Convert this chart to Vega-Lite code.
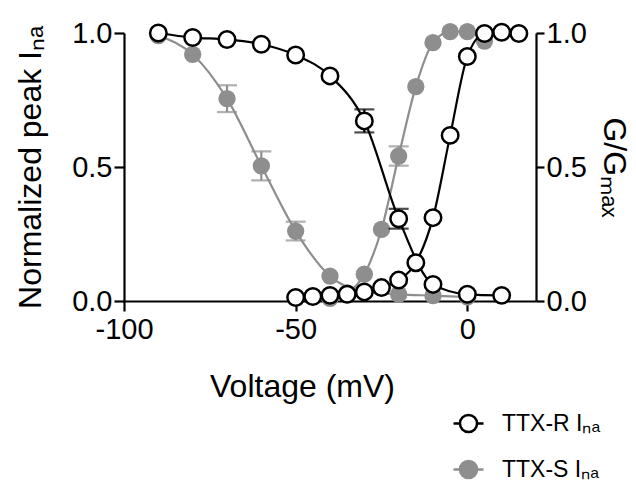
{
  "$schema": "https://vega.github.io/schema/vega-lite/v6.json",
  "width": 412,
  "height": 268,
  "autosize": {"type": "none"},
  "padding": {"left": 124, "top": 33, "right": 100, "bottom": 183},
  "config": {
    "view": {"stroke": null},
    "font": "Liberation Sans",
    "axis": {
      "grid": false,
      "labelFlush": false,
      "domainColor": "black",
      "tickColor": "black",
      "labelColor": "black",
      "titleColor": "black",
      "domainWidth": 2.2,
      "tickWidth": 2.2,
      "labelFontSize": 29,
      "titleFontSize": 32,
      "titleFontWeight": "normal",
      "tickSize": 9,
      "labelPadding": 3
    },
    "legend": {
      "symbolType": "M-1,0H-0.57M0.57,0H1M0.57,0A0.57,0.57 0 1,1 -0.57,0A0.57,0.57 0 1,1 0.57,0Z",
      "symbolSize": 900,
      "symbolStrokeWidth": 2.5,
      "labelFontSize": 23,
      "labelColor": "black",
      "labelOffset": 17,
      "rowPadding": 15
    }
  },
  "data": {
    "values": [
      {"v": -90, "y": 1.0, "grp": "R", "series": "TTX-R Iₙₐ", "curve": "R-inact"},
      {"v": -80, "y": 0.983, "grp": "R", "series": "TTX-R Iₙₐ", "curve": "R-inact"},
      {"v": -70, "y": 0.976, "grp": "R", "series": "TTX-R Iₙₐ", "curve": "R-inact"},
      {"v": -60, "y": 0.958, "grp": "R", "series": "TTX-R Iₙₐ", "curve": "R-inact"},
      {"v": -50, "y": 0.918, "grp": "R", "series": "TTX-R Iₙₐ", "curve": "R-inact"},
      {"v": -40, "y": 0.84, "grp": "R", "series": "TTX-R Iₙₐ", "curve": "R-inact"},
      {"v": -30, "y": 0.672, "lo": 0.629, "hi": 0.715, "grp": "R", "series": "TTX-R Iₙₐ", "curve": "R-inact"},
      {"v": -20, "y": 0.307, "lo": 0.27, "hi": 0.344, "grp": "R", "series": "TTX-R Iₙₐ", "curve": "R-inact"},
      {"v": -10, "y": 0.062, "grp": "R", "series": "TTX-R Iₙₐ", "curve": "R-inact"},
      {"v": 0, "y": 0.025, "grp": "R", "series": "TTX-R Iₙₐ", "curve": "R-inact"},
      {"v": 10, "y": 0.021, "grp": "R", "series": "TTX-R Iₙₐ", "curve": "R-inact"},
      {"v": -50, "y": 0.013, "grp": "R", "series": "TTX-R Iₙₐ", "curve": "R-act"},
      {"v": -45, "y": 0.017, "grp": "R", "series": "TTX-R Iₙₐ", "curve": "R-act"},
      {"v": -40, "y": 0.021, "grp": "R", "series": "TTX-R Iₙₐ", "curve": "R-act"},
      {"v": -35, "y": 0.025, "grp": "R", "series": "TTX-R Iₙₐ", "curve": "R-act"},
      {"v": -30, "y": 0.034, "grp": "R", "series": "TTX-R Iₙₐ", "curve": "R-act"},
      {"v": -25, "y": 0.05, "grp": "R", "series": "TTX-R Iₙₐ", "curve": "R-act"},
      {"v": -20, "y": 0.078, "grp": "R", "series": "TTX-R Iₙₐ", "curve": "R-act"},
      {"v": -15, "y": 0.143, "grp": "R", "series": "TTX-R Iₙₐ", "curve": "R-act"},
      {"v": -10, "y": 0.311, "grp": "R", "series": "TTX-R Iₙₐ", "curve": "R-act"},
      {"v": -5, "y": 0.618, "grp": "R", "series": "TTX-R Iₙₐ", "curve": "R-act"},
      {"v": 0, "y": 0.912, "grp": "R", "series": "TTX-R Iₙₐ", "curve": "R-act"},
      {"v": 5, "y": 0.998, "grp": "R", "series": "TTX-R Iₙₐ", "curve": "R-act"},
      {"v": 10, "y": 1.003, "grp": "R", "series": "TTX-R Iₙₐ", "curve": "R-act"},
      {"v": 15, "y": 0.998, "grp": "R", "series": "TTX-R Iₙₐ", "curve": "R-act"},
      {"v": -90, "y": 0.99, "grp": "S", "series": "TTX-S Iₙₐ", "curve": "S-inact"},
      {"v": -80, "y": 0.92, "grp": "S", "series": "TTX-S Iₙₐ", "curve": "S-inact"},
      {"v": -70, "y": 0.755, "lo": 0.705, "hi": 0.805, "grp": "S", "series": "TTX-S Iₙₐ", "curve": "S-inact"},
      {"v": -60, "y": 0.504, "lo": 0.45, "hi": 0.558, "grp": "S", "series": "TTX-S Iₙₐ", "curve": "S-inact"},
      {"v": -50, "y": 0.261, "lo": 0.226, "hi": 0.296, "grp": "S", "series": "TTX-S Iₙₐ", "curve": "S-inact"},
      {"v": -40, "y": 0.093, "grp": "S", "series": "TTX-S Iₙₐ", "curve": "S-inact"},
      {"v": -30, "y": 0.035, "grp": "S", "series": "TTX-S Iₙₐ", "curve": "S-inact"},
      {"v": -20, "y": 0.025, "grp": "S", "series": "TTX-S Iₙₐ", "curve": "S-inact"},
      {"v": -10, "y": 0.02, "grp": "S", "series": "TTX-S Iₙₐ", "curve": "S-inact"},
      {"v": 0, "y": 0.015, "grp": "S", "series": "TTX-S Iₙₐ", "curve": "S-inact"},
      {"v": -40, "y": 0.01, "grp": "S", "series": "TTX-S Iₙₐ", "curve": "S-act"},
      {"v": -35, "y": 0.03, "grp": "S", "series": "TTX-S Iₙₐ", "curve": "S-act"},
      {"v": -30, "y": 0.1, "grp": "S", "series": "TTX-S Iₙₐ", "curve": "S-act"},
      {"v": -25, "y": 0.267, "grp": "S", "series": "TTX-S Iₙₐ", "curve": "S-act"},
      {"v": -20, "y": 0.541, "lo": 0.505, "hi": 0.577, "grp": "S", "series": "TTX-S Iₙₐ", "curve": "S-act"},
      {"v": -15, "y": 0.8, "grp": "S", "series": "TTX-S Iₙₐ", "curve": "S-act"},
      {"v": -10, "y": 0.964, "grp": "S", "series": "TTX-S Iₙₐ", "curve": "S-act"},
      {"v": -5, "y": 1.005, "grp": "S", "series": "TTX-S Iₙₐ", "curve": "S-act"},
      {"v": 0, "y": 1.005, "grp": "S", "series": "TTX-S Iₙₐ", "curve": "S-act"},
      {"v": 5, "y": 0.97, "grp": "S", "series": "TTX-S Iₙₐ", "curve": "S-act"}
    ]
  },
  "resolve": {"scale": {"y": "independent"}},
  "layer": [
    {
      "transform": [{"filter": "datum.grp == 'S'"}],
      "mark": {"type": "line", "interpolate": "monotone", "strokeWidth": 2.2, "clip": false},
      "encoding": {
        "x": {
          "field": "v", "type": "quantitative",
          "scale": {"domain": [-100, 20], "nice": false, "zero": false},
          "axis": {"values": [-100, -50, 0], "title": "Voltage (mV)", "labelExpr": "'' + datum.value", "offset": 0, "tickSize": 10, "labelPadding": 4, "titlePadding": 27, "titleX": 178}
        },
        "y": {
          "field": "y", "type": "quantitative",
          "scale": {"domain": [0, 1], "nice": false},
          "axis": {"values": [0, 0.5, 1], "format": ".1f", "title": "Normalized peak Iₙₐ", "offset": 0, "tickSize": 10, "labelPadding": 2, "titlePadding": 24}
        },
        "detail": {"field": "curve"},
        "stroke": {
          "field": "series", "type": "nominal",
          "scale": {"domain": ["TTX-R Iₙₐ", "TTX-S Iₙₐ"], "range": ["#000000", "#8e8e8e"]},
          "legend": {"title": null, "orient": "none", "legendX": 328, "legendY": 374}
        }
      }
    },
    {
      "transform": [{"filter": "datum.grp == 'S' && isValid(datum.lo)"}],
      "mark": {"type": "rule", "color": "#8e8e8e", "strokeWidth": 2.2},
      "encoding": {
        "x": {"field": "v", "type": "quantitative"},
        "y": {"field": "lo", "type": "quantitative", "scale": {"domain": [0, 1], "nice": false}, "axis": null},
        "y2": {"field": "hi"}
      }
    },
    {
      "transform": [{"filter": "datum.grp == 'S' && isValid(datum.lo)"}],
      "mark": {"type": "tick", "orient": "horizontal", "color": "#8e8e8e", "size": 20, "thickness": 2.2},
      "encoding": {
        "x": {"field": "v", "type": "quantitative"},
        "y": {"field": "lo", "type": "quantitative", "scale": {"domain": [0, 1], "nice": false}, "axis": null}
      }
    },
    {
      "transform": [{"filter": "datum.grp == 'S' && isValid(datum.lo)"}],
      "mark": {"type": "tick", "orient": "horizontal", "color": "#8e8e8e", "size": 20, "thickness": 2.2},
      "encoding": {
        "x": {"field": "v", "type": "quantitative"},
        "y": {"field": "hi", "type": "quantitative", "scale": {"domain": [0, 1], "nice": false}, "axis": null}
      }
    },
    {
      "transform": [{"filter": "datum.grp == 'S'"}],
      "mark": {"type": "point", "filled": true, "size": 300, "opacity": 1, "strokeWidth": 0, "clip": false},
      "encoding": {
        "x": {"field": "v", "type": "quantitative"},
        "y": {"field": "y", "type": "quantitative", "scale": {"domain": [0, 1], "nice": false}, "axis": null},
        "fill": {
          "field": "series", "type": "nominal",
          "scale": {"domain": ["TTX-R Iₙₐ", "TTX-S Iₙₐ"], "range": ["#ffffff", "#8e8e8e"]},
          "legend": {"title": null, "orient": "none", "legendX": 328, "legendY": 374}
        },
        "stroke": {"field": "series", "type": "nominal"}
      }
    },
    {
      "transform": [{"filter": "datum.grp == 'R'"}],
      "mark": {"type": "line", "interpolate": "monotone", "strokeWidth": 2.2, "clip": false},
      "encoding": {
        "x": {"field": "v", "type": "quantitative"},
        "y": {
          "field": "y", "type": "quantitative",
          "scale": {"domain": [0, 1], "nice": false},
          "axis": {"orient": "right", "values": [0, 0.5, 1], "format": ".1f", "title": "G/Gₘₐₓ", "titleAngle": 90, "offset": 0, "tickSize": 8, "labelPadding": 2, "titlePadding": 10}
        },
        "detail": {"field": "curve"},
        "stroke": {"field": "series", "type": "nominal"}
      }
    },
    {
      "transform": [{"filter": "datum.grp == 'R' && isValid(datum.lo)"}],
      "mark": {"type": "rule", "color": "#000000", "strokeWidth": 2.2},
      "encoding": {
        "x": {"field": "v", "type": "quantitative"},
        "y": {"field": "lo", "type": "quantitative", "scale": {"domain": [0, 1], "nice": false}, "axis": null},
        "y2": {"field": "hi"}
      }
    },
    {
      "transform": [{"filter": "datum.grp == 'R' && isValid(datum.lo)"}],
      "mark": {"type": "tick", "orient": "horizontal", "color": "#000000", "size": 20, "thickness": 2.2},
      "encoding": {
        "x": {"field": "v", "type": "quantitative"},
        "y": {"field": "lo", "type": "quantitative", "scale": {"domain": [0, 1], "nice": false}, "axis": null}
      }
    },
    {
      "transform": [{"filter": "datum.grp == 'R' && isValid(datum.lo)"}],
      "mark": {"type": "tick", "orient": "horizontal", "color": "#000000", "size": 20, "thickness": 2.2},
      "encoding": {
        "x": {"field": "v", "type": "quantitative"},
        "y": {"field": "hi", "type": "quantitative", "scale": {"domain": [0, 1], "nice": false}, "axis": null}
      }
    },
    {
      "transform": [{"filter": "datum.grp == 'R'"}],
      "mark": {"type": "point", "filled": true, "size": 272, "opacity": 1, "strokeWidth": 2.5, "clip": false},
      "encoding": {
        "x": {"field": "v", "type": "quantitative"},
        "y": {"field": "y", "type": "quantitative", "scale": {"domain": [0, 1], "nice": false}, "axis": null},
        "fill": {"field": "series", "type": "nominal"},
        "stroke": {"field": "series", "type": "nominal"}
      }
    }
  ]
}
